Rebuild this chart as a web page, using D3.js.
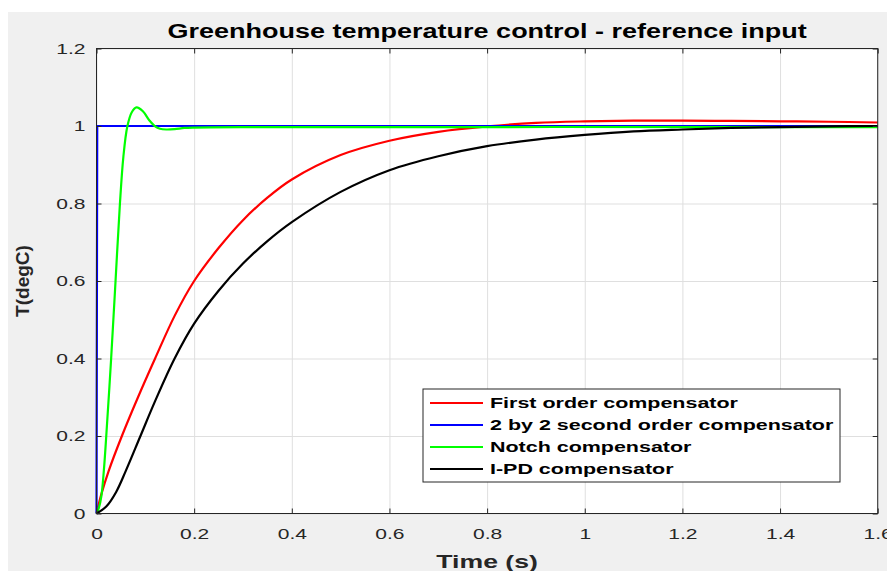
<!doctype html>
<html lang="en">
  <head>
    <meta charset="utf-8">
    <title>greenhouse</title>
    <style>
      body { margin: 0; background: #fff; }
      svg text { font-family: "Liberation Sans", Arial, sans-serif; }
      .axis text { font-size: 15px; fill: #262626; }
      .axis path { display: none; }
      .axis line { stroke: #262626; }
      .grid line { stroke: #dfdfdf; }
      .grid path { display: none; }
      .curve { fill: none; stroke-width: 2.2; stroke-linejoin: round; }
      .title { font-size: 20px; font-weight: bold; fill: #000; }
      .label { font-size: 19px; font-weight: bold; fill: #262626; }
      .legend text { font-size: 15px; font-weight: bold; fill: #000; }
    </style>
  </head>
  <body>
    <div class="chart"></div>
  <script src="https://d3js.org/d3.v7.min.js"></script>
  <script>
    // step responses
    const tFirst = [0, 0.01, 0.025, 0.052, 0.085, 0.12, 0.16, 0.2, 0.25, 0.3, 0.35, 0.4, 0.5, 0.6, 0.7, 0.8, 0.9, 1.0, 1.1, 1.2, 1.3, 1.4, 1.5, 1.6];
    const yFirst = [0, 0.05, 0.11, 0.2, 0.3, 0.4, 0.51, 0.6, 0.685, 0.757, 0.815, 0.862, 0.925, 0.962, 0.985, 0.999, 1.008, 1.012, 1.014, 1.014, 1.013, 1.012, 1.011, 1.009];

    const tSecond = [0, 0.0015, 1.6];
    const ySecond = [0, 1, 1];

    const tNotch = [0, 0.005, 0.01, 0.015, 0.02, 0.03, 0.039, 0.048, 0.055, 0.063, 0.072, 0.082, 0.095, 0.108, 0.12, 0.13, 0.143, 0.16, 0.18, 0.2, 0.3, 1.6];
    const yNotch = [0, 0.015, 0.045, 0.11, 0.2, 0.4, 0.6, 0.8, 0.92, 0.998, 1.035, 1.048, 1.038, 1.015, 0.999, 0.993, 0.991, 0.992, 0.995, 0.996, 0.997, 0.997];

    const tIPD = [0, 0.02, 0.04, 0.06, 0.09, 0.12, 0.16, 0.2, 0.25, 0.3, 0.35, 0.4, 0.5, 0.6, 0.7, 0.8, 0.9, 1.0, 1.1, 1.2, 1.3, 1.4, 1.5, 1.6];
    const yIPD = [0, 0.018, 0.055, 0.11, 0.2, 0.29, 0.4, 0.49, 0.575, 0.645, 0.703, 0.752, 0.83, 0.886, 0.922, 0.948, 0.965, 0.977, 0.986, 0.991, 0.995, 0.997, 0.999, 1.0];

    const seriesNames = ['First order compensator', '2 by 2 second order compensator', 'Notch compensator', 'I-PD compensator'];
    const seriesColors = ['#ff0000', '#0000ff', '#00ff00', '#000000'];

    const xTicks = [0, 0.2, 0.4, 0.6, 0.8, 1, 1.2, 1.4, 1.6];
    const yTicks = [0, 0.2, 0.4, 0.6, 0.8, 1, 1.2];

    const series = [
      {t: tFirst, y: yFirst, curve: d3.curveCatmullRom},
      {t: tSecond, y: ySecond, curve: d3.curveLinear},
      {t: tNotch, y: yNotch, curve: d3.curveCatmullRom},
      {t: tIPD, y: yIPD, curve: d3.curveCatmullRom},
    ].map((s, i) => ({
      name: seriesNames[i],
      color: seriesColors[i],
      curve: s.curve,
      points: s.t.map((t, j) => [t, s.y[j]]),
    }));

    const margin = {top: 48.5, left: 96.5};
    const width = 781.2;
    const height = 465;

    // the picture is wider than matlab drew it, so widen text too
    function stretch(sel, k) {
      sel.each(function() {
        const len = this.getComputedTextLength();
        d3.select(this)
          .attr('textLength', len * k)
          .attr('lengthAdjust', 'spacingAndGlyphs');
      });
    }

    const xScale = d3.scaleLinear().domain([0, 1.6]).range([0, width]);
    const yScale = d3.scaleLinear().domain([0, 1.2]).range([height, 0]);

    const root = d3.select('.chart').append('svg')
        .attr('width', 887)
        .attr('height', 571);

    root.append('rect')
        .attr('x', 8).attr('y', 12)
        .attr('width', 887 - 8).attr('height', 571 - 12)
        .attr('fill', '#f0f0f0');

    const svg = root.append('g')
        .attr('transform', `translate(${margin.left},${margin.top})`);

    svg.append('rect')
        .attr('width', width).attr('height', height)
        .attr('fill', '#fff');

    // grid
    svg.append('g')
        .attr('class', 'grid')
        .attr('transform', `translate(0,${height})`)
        .call(d3.axisBottom(xScale).tickValues(xTicks).tickSize(-height).tickFormat(''));
    svg.append('g')
        .attr('class', 'grid')
        .call(d3.axisLeft(yScale).tickValues(yTicks).tickSize(-width).tickFormat(''));

    // curves
    svg.selectAll('.curve')
        .data(series)
      .enter().append('path')
        .attr('class', 'curve')
        .attr('stroke', d => d.color)
        .attr('d', d => d3.line()
          .x(p => xScale(p[0]))
          .y(p => yScale(p[1]))
          .curve(d.curve)(d.points));

    // axes, ticks pointing in
    const xAxis = svg.append('g')
        .attr('class', 'axis axis--x')
        .attr('transform', `translate(0,${height})`)
        .call(d3.axisBottom(xScale).tickValues(xTicks).tickSize(-5).tickPadding(15).tickFormat(d3.format('')));
    const yAxis = svg.append('g')
        .attr('class', 'axis axis--y')
        .call(d3.axisLeft(yScale).tickValues(yTicks).tickSize(-5).tickPadding(11).tickFormat(d3.format('')));
    svg.append('g')
        .attr('class', 'axis')
        .call(d3.axisTop(xScale).tickValues(xTicks).tickSize(-5).tickFormat(''));
    svg.append('g')
        .attr('class', 'axis')
        .attr('transform', `translate(${width},0)`)
        .call(d3.axisRight(yScale).tickValues(yTicks).tickSize(-5).tickFormat(''));

    stretch(xAxis.selectAll('text'), 1.4);
    stretch(yAxis.selectAll('text'), 1.4);

    svg.append('rect')
        .attr('width', width).attr('height', height)
        .attr('fill', 'none')
        .attr('stroke', '#262626');

    // labels
    const title = svg.append('text')
        .attr('class', 'title')
        .attr('x', width / 2)
        .attr('y', 38 - margin.top)
        .attr('text-anchor', 'middle')
        .text('Greenhouse temperature control - reference input');
    stretch(title, 1.35);

    const xLabel = svg.append('text')
        .attr('class', 'label')
        .attr('x', width / 2)
        .attr('y', 568 - margin.top)
        .attr('text-anchor', 'middle')
        .text('Time (s)');
    stretch(xLabel, 1.4);

    svg.append('text')
        .attr('class', 'label')
        .attr('transform', `translate(${29 - margin.left},${height / 2}) rotate(-90)`)
        .attr('text-anchor', 'middle')
        .text('T(degC)');

    // legend
    const legend = svg.append('g')
        .attr('class', 'legend')
        .attr('transform', `translate(${423 - margin.left},${389 - margin.top})`);

    legend.append('rect')
        .attr('width', 417).attr('height', 93)
        .attr('fill', '#fff')
        .attr('stroke', '#262626');

    const item = legend.selectAll('.item')
        .data(series)
      .enter().append('g')
        .attr('class', 'item')
        .attr('transform', (d, i) => `translate(0,${14 + i * 22})`);

    item.append('line')
        .attr('x1', 7).attr('x2', 60)
        .attr('stroke', d => d.color)
        .attr('stroke-width', 2);

    const itemText = item.append('text')
        .attr('x', 67)
        .attr('dy', '0.35em')
        .text(d => d.name);
    stretch(itemText, 1.43);
  </script>
  </body>
</html>
